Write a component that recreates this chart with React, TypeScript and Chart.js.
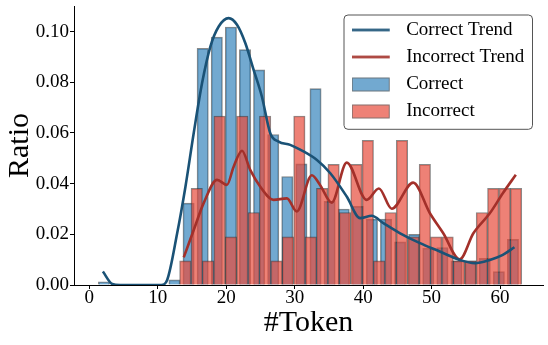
import React, { useEffect, useRef } from 'react';
import { Chart, registerables } from 'chart.js';

Chart.register(...registerables);

// ---------- data ----------
const xTicks = [0, 10, 20, 30, 40, 50, 60];
const yTicks = [0, 0.02, 0.04, 0.06, 0.08, 0.1];

// Correct histogram: bar centres (#Token) and ratios
const correctBinCenters = [
  2.14, 4.2, 6.26, 8.32, 10.38, 12.44, 14.5, 16.56, 18.62, 20.68,
  22.74, 24.8, 26.86, 28.92, 30.98, 33.04, 35.1, 37.16, 39.22, 41.28,
  43.34, 45.4, 47.46, 49.52, 51.58, 53.64, 55.7, 57.76, 59.82, 61.88,
];
const correctRatio = [
  0.0013, 0, 0, 0, 0, 0.002, 0.0323, 0.0934, 0.0978, 0.1018,
  0.0929, 0.0849, 0.0594, 0.0428, 0.0478, 0.0775, 0.033, 0.03, 0.031, 0.026,
  0.026, 0.017, 0.02, 0.0145, 0.0148, 0.0095, 0.0095, 0.0105, 0.0053, 0.018,
];

// Incorrect histogram
const incorrectBinCenters = [
  14.02, 15.69, 17.35, 19.02, 20.68, 22.35, 24.02, 25.68, 27.35, 29.01,
  30.68, 32.35, 34.01, 35.68, 37.34, 39.01, 40.68, 42.34, 44.01, 45.67,
  47.34, 49.01, 50.67, 52.34, 54.0, 55.67, 57.34, 59.0, 60.67, 62.33,
];
const incorrectRatio = [
  0.0095, 0.0381, 0.0095, 0.0667, 0.019, 0.0667, 0.0286, 0.0667, 0.0095, 0.019,
  0.0667, 0.019, 0.0381, 0.0476, 0.0286, 0.0476, 0.0571, 0.0095, 0.0286, 0.0571,
  0.019, 0.0476, 0.019, 0.019, 0.0095, 0.0095, 0.0286, 0.0381, 0.0381, 0.0381,
];

// Trend curves
const correctTrendX = [
  1.98, 3.35, 4.5, 10.5, 11.37, 12.83, 14.04, 15.25, 16.47, 17.68, 18.9, 20.35,
  21.57, 22.78, 24.0, 25.2, 26.43, 27.64, 29.34, 31.28, 33.2, 35.2, 37.6, 39.55,
  41.25, 42.95, 45.4, 48.3, 51.2, 54.1, 56.3, 58.5, 60.4, 62.1,
];
const correctTrendY = [
  0.0053, 0.0004, 0, 0, 0.002, 0.0204, 0.0388, 0.06, 0.0797, 0.0941, 0.102, 0.1053,
  0.1027, 0.0955, 0.0849, 0.0744, 0.0599, 0.0566, 0.0553, 0.0527, 0.0494, 0.0441, 0.0349, 0.0264,
  0.0273, 0.0244, 0.0204, 0.0165, 0.0132, 0.0099, 0.0086, 0.0099, 0.0119, 0.0149,
];
const incorrectTrendX = [
  13.79, 15.25, 16.7, 18.66, 20.1, 21.08, 22.3, 23.5, 24.97, 26.9, 28.86, 30.3,
  32.5, 33.7, 35.4, 37.6, 40.5, 42.3, 44.17, 47.3, 49.75, 51.7, 54.1, 56.1,
  58.5, 60.4, 62.3,
];
const incorrectTrendY = [
  0.0109, 0.0217, 0.0323, 0.0415, 0.0395, 0.0467, 0.053, 0.0454, 0.0388, 0.0336, 0.0342, 0.029,
  0.0433, 0.0395, 0.0325, 0.0483, 0.0336, 0.0381, 0.0301, 0.0404, 0.0283, 0.0204, 0.0101, 0.0204,
  0.0283, 0.0362, 0.0435,
];

const legendLabels = ['Correct Trend', 'Incorrect Trend', 'Correct', 'Incorrect'];

// ---------- layout / style ----------
const W = 548;
const H = 345;
const PAD = { top: 6, right: 5, bottom: 0, left: 0 };
const Y_AXIS_W = 74;
const X_AXIS_H = 60;
const X_MIN = -2.24;
const X_MAX = 66.27;
const Y_MAX = 0.1101;
const CORRECT_BAR_W = 1.65;
const INCORRECT_BAR_W = 1.666;
const FONT = "'Liberation Serif', 'Times New Roman', serif";

const BLUE_FILL = 'rgba(31,119,180,0.63)';
const RED_FILL = 'rgba(231,76,60,0.7)';
const BAR_EDGE = 'rgba(40,40,40,0.55)';
const BLUE_LINE = '#1a5276';
const RED_LINE = '#a3302a';

function makeHandle(kind: 'line' | 'rect', color: string): HTMLCanvasElement {
  const c = document.createElement('canvas');
  c.width = 45;
  c.height = 19;
  const g = c.getContext('2d')!;
  if (kind === 'line') {
    g.strokeStyle = color;
    g.lineWidth = 2.6;
    g.beginPath();
    g.moveTo(0, 9.5);
    g.lineTo(38, 9.5);
    g.stroke();
  } else {
    g.fillStyle = color;
    g.fillRect(0.5, 3.5, 37, 13);
    g.strokeStyle = BAR_EDGE;
    g.lineWidth = 1;
    g.strokeRect(0.5, 3.5, 37, 13);
  }
  return c;
}

export default function App() {
  const ref = useRef<HTMLCanvasElement>(null);

  useEffect(() => {
    document.body.style.margin = '0';
    const canvas = ref.current;
    if (!canvas) return;

    const pxPerUnit = (W - PAD.left - PAD.right - Y_AXIS_W) / (X_MAX - X_MIN);

    const handles = [
      makeHandle('line', BLUE_LINE),
      makeHandle('line', RED_LINE),
      makeHandle('rect', BLUE_FILL),
      makeHandle('rect', RED_FILL),
    ];

    const legendPlacer = {
      id: 'legendPlacer',
      afterLayout(chart: any) {
        const lg = chart.legend;
        const ca = chart.chartArea;
        if (!lg) return;
        lg.left = ca.right - 199.3;
        lg.top = ca.top + 6.5;
        lg.right = lg.left + 195;
        lg.bottom = lg.top + 125;
      },
      beforeDraw(chart: any) {
        const ca = chart.chartArea;
        const ctx = chart.ctx;
        const x = ca.right - 199;
        const y = ca.top + 9;
        const w = 188.5;
        const h = 114.3;
        const r = 4;
        ctx.save();
        ctx.beginPath();
        ctx.moveTo(x + r, y);
        ctx.lineTo(x + w - r, y);
        ctx.arcTo(x + w, y, x + w, y + r, r);
        ctx.lineTo(x + w, y + h - r);
        ctx.arcTo(x + w, y + h, x + w - r, y + h, r);
        ctx.lineTo(x + r, y + h);
        ctx.arcTo(x, y + h, x, y + h - r, r);
        ctx.lineTo(x, y + r);
        ctx.arcTo(x, y, x + r, y, r);
        ctx.closePath();
        ctx.fillStyle = 'rgba(255,255,255,0.85)';
        ctx.fill();
        ctx.strokeStyle = '#555555';
        ctx.lineWidth = 1;
        ctx.stroke();
        ctx.restore();
      },
    };

    const chart = new Chart(canvas, {
      type: 'bar',
      data: {
        datasets: [
          {
            type: 'line',
            label: legendLabels[0],
            data: correctTrendX.map((x, i) => ({ x, y: correctTrendY[i] })),
            borderColor: BLUE_LINE,
            borderWidth: 2.6,
            pointRadius: 0,
            fill: false,
            cubicInterpolationMode: 'monotone',
            order: 0,
          } as any,
          {
            type: 'line',
            label: legendLabels[1],
            data: incorrectTrendX.map((x, i) => ({ x, y: incorrectTrendY[i] })),
            borderColor: RED_LINE,
            borderWidth: 2.6,
            pointRadius: 0,
            fill: false,
            cubicInterpolationMode: 'monotone',
            order: 1,
          } as any,
          {
            type: 'bar',
            label: legendLabels[2],
            data: correctBinCenters.map((x, i) => ({ x, y: correctRatio[i] })),
            backgroundColor: BLUE_FILL,
            borderColor: BAR_EDGE,
            borderWidth: 1,
            grouped: false,
            barThickness: CORRECT_BAR_W * pxPerUnit,
            order: 3,
          } as any,
          {
            type: 'bar',
            label: legendLabels[3],
            data: incorrectBinCenters.map((x, i) => ({ x, y: incorrectRatio[i] })),
            backgroundColor: RED_FILL,
            borderColor: BAR_EDGE,
            borderWidth: 1,
            grouped: false,
            barThickness: INCORRECT_BAR_W * pxPerUnit,
            order: 2,
          } as any,
        ],
      },
      options: {
        responsive: false,
        animation: false,
        events: [],
        layout: { padding: PAD },
        scales: {
          x: {
            type: 'linear',
            min: X_MIN,
            max: X_MAX,
            offset: false,
            grid: {
              display: true,
              drawOnChartArea: false,
              drawTicks: true,
              tickLength: 4,
              tickColor: '#000',
              offset: false,
            },
            border: { display: true, color: '#000', width: 1 },
            ticks: {
              color: '#000',
              font: { family: FONT, size: 19, lineHeight: 0.8 },
              padding: 1,
              maxRotation: 0,
              minRotation: 0,
              autoSkip: false,
              callback: (v: any) => String(v),
            },
            afterBuildTicks: (s: any) => {
              s.ticks = xTicks.map((v) => ({ value: v }));
            },
            afterFit: (s: any) => {
              s.height = X_AXIS_H;
            },
            title: {
              display: true,
              text: '#Token',
              color: '#000',
              font: { family: FONT, size: 30, lineHeight: 1.2 },
              padding: { top: 0, bottom: 4 },
            },
          } as any,
          y: {
            type: 'linear',
            min: 0,
            max: Y_MAX,
            grid: {
              display: true,
              drawOnChartArea: false,
              drawTicks: true,
              tickLength: 4,
              tickColor: '#000',
            },
            border: { display: true, color: '#000', width: 1 },
            ticks: {
              color: '#000',
              font: { family: FONT, size: 19, lineHeight: 0.5 },
              padding: 1,
              autoSkip: false,
              callback: (v: any) => Number(v).toFixed(2),
            },
            afterBuildTicks: (s: any) => {
              s.ticks = yTicks.map((v) => ({ value: v }));
            },
            afterFit: (s: any) => {
              s.width = Y_AXIS_W;
            },
            title: {
              display: true,
              text: 'Ratio',
              color: '#000',
              font: { family: FONT, size: 30, lineHeight: 1.2 },
              padding: { top: 2, bottom: 0 },
            },
          } as any,
        },
        plugins: {
          tooltip: { enabled: false },
          legend: {
            display: true,
            position: 'chartArea',
            align: 'start',
            labels: {
              color: '#000',
              font: { family: FONT, size: 19 },
              usePointStyle: true,
              pointStyleWidth: 45,
              boxHeight: 19,
              padding: 8,
              generateLabels: () =>
                legendLabels.map((text, i) => ({
                  text,
                  pointStyle: handles[i],
                  fillStyle: 'rgba(0,0,0,0)',
                  strokeStyle: 'rgba(0,0,0,0)',
                  lineWidth: 0,
                  hidden: false,
                  fontColor: '#000',
                  textAlign: 'left',
                  datasetIndex: i,
                })) as any,
            },
          } as any,
        },
      },
      plugins: [legendPlacer],
    } as any);

    return () => chart.destroy();
  }, []);

  return (
    <canvas
      ref={ref}
      width={W}
      height={H}
      style={{ display: 'block', width: W + 'px', height: H + 'px' }}
    />
  );
}
